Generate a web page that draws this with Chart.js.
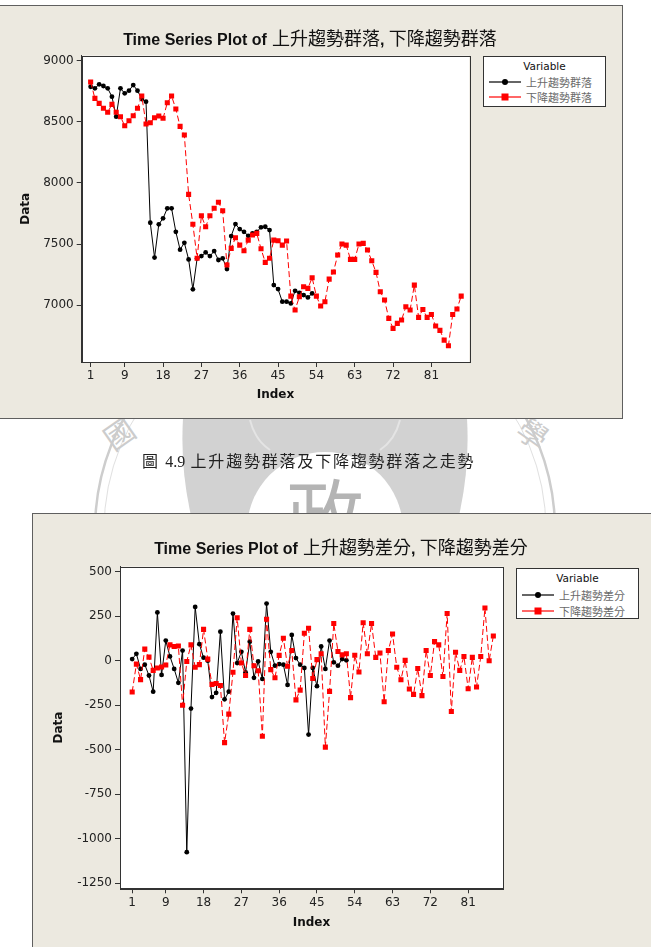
<!DOCTYPE html>
<html>
<head>
<meta charset="utf-8">
<script src="https://cdn.jsdelivr.net/npm/chart.js@4.4.0/dist/chart.umd.min.js"></script>
<style>
  html, body { margin: 0; padding: 0; background: #fff; }
  body { width: 651px; height: 947px; position: relative; overflow: hidden; font-family: "DejaVu Sans", sans-serif; }
  #mark { position: absolute; left: 0; top: 0; }
  .panel { position: absolute; background: #ece9e0; border: 1px solid #5f5f5f; box-sizing: border-box; }
  #panel1 { left: -2px; top: 5px; width: 625px; height: 414px; }
  #panel2 { left: 32px; top: 513px; width: 630px; height: 440px; }
  canvas { position: absolute; }
  #c1 { left: 0; top: 0; }
  #c2 { left: 0; top: 420px; }
  .title { position: absolute; white-space: nowrap; color: #111; transform: translate(-50%, -50%); }
  .title b { font-family: "Liberation Sans", sans-serif; font-size: 16px; }
  .title span { font-family: "Noto Sans CJK TC", sans-serif; font-size: 18px; }
  .legend { position: absolute; background: #fff; border: 1px solid #333; box-sizing: border-box; width: 123px; height: 51px; }
  .legend .head { position: absolute; left: 0; width: 100%; top: 3px; text-align: center; font-size: 10.5px; color: #111; font-family: "DejaVu Sans", sans-serif; }
  .legend .row { position: absolute; left: 42px; font-size: 11px; color: #6a6a6a; font-family: "Noto Sans CJK TC", sans-serif; line-height: 14px; }
  .legend svg { position: absolute; left: 4px; }
  #caption { position: absolute; left: 142px; top: 448px; font-family: "Noto Sans CJK TC", serif; font-size: 16px; letter-spacing: 1.8px; color: #222; white-space: nowrap; }
  #caption i { font-style: normal; font-family: "Liberation Serif", serif; font-size: 16px; letter-spacing: 0; }
</style>
</head>
<body>

<svg id="mark" width="651" height="947">
  <circle cx="325" cy="530" r="230" fill="none" stroke="#cdcdcd" stroke-width="2.5"/>
  <circle cx="325" cy="530" r="221" fill="none" stroke="#e0e0e0" stroke-width="1"/>
  <path d="M183 418 L467 418 Q470 470 458 520 L192 520 Q180 470 183 418 Z" fill="#d2d2d2"/>
  <path d="M250 420 Q255 440 270 450" fill="none" stroke="#e4e4e4" stroke-width="2"/>
  <path d="M400 420 Q395 440 380 450" fill="none" stroke="#e4e4e4" stroke-width="2"/>
  <circle cx="325" cy="530" r="78" fill="#ffffff"/>
  <text x="325" y="545" font-size="78" text-anchor="middle" fill="#b4b4b4" font-family="Noto Sans CJK TC">政</text>
  <text x="120" y="445" font-size="30" text-anchor="middle" fill="#cccccc" font-family="Noto Sans CJK TC" transform="rotate(-35 120 435)">國</text>
  <text x="532" y="445" font-size="30" text-anchor="middle" fill="#cccccc" font-family="Noto Sans CJK TC" transform="rotate(35 532 435)">學</text>
</svg>

<div class="panel" id="panel1"></div>
<div class="panel" id="panel2"></div>

<canvas id="c1" width="651" height="420"></canvas>
<canvas id="c2" width="651" height="527"></canvas>

<div class="title" style="left:310px; top:37px;"><b>Time Series Plot of</b> <span>上升趨勢群落</span><b>, </b><span>下降趨勢群落</span></div>
<div class="title" style="left:341px; top:546px;"><b>Time Series Plot of</b> <span>上升趨勢差分</span><b>, </b><span>下降趨勢差分</span></div>

<div class="legend" style="left:483px; top:56px;">
  <div class="head">Variable</div>
  <svg width="36" height="50" style="top:0">
    <line x1="1" y1="25" x2="33" y2="25" stroke="#000" stroke-width="1.2"/>
    <circle cx="17" cy="25" r="3" fill="#000"/>
    <line x1="1" y1="40" x2="33" y2="40" stroke="#f00" stroke-width="1.2"/>
    <rect x="13.5" y="36.5" width="7" height="7" fill="#f00"/>
  </svg>
  <div class="row" style="top:18px;">上升趨勢群落</div>
  <div class="row" style="top:33px;">下降趨勢群落</div>
</div>

<div class="legend" style="left:516px; top:568px;">
  <div class="head">Variable</div>
  <svg width="36" height="50" style="top:0">
    <line x1="1" y1="26" x2="33" y2="26" stroke="#000" stroke-width="1.2"/>
    <circle cx="17" cy="26" r="3" fill="#000"/>
    <line x1="1" y1="42" x2="33" y2="42" stroke="#f00" stroke-width="1.2"/>
    <rect x="13.5" y="38.5" width="7" height="7" fill="#f00"/>
  </svg>
  <div class="row" style="top:19px;">上升趨勢差分</div>
  <div class="row" style="top:35px;">下降趨勢差分</div>
</div>

<div id="caption">圖 <i>4.9</i> 上升趨勢群落及下降趨勢群落之走勢</div>

<script>
// index ticks shared by both plots
const xTicks = [1, 9, 18, 27, 36, 45, 54, 63, 72, 81];

// top plot: 上升趨勢群落 / 下降趨勢群落
const upCluster = [8787, 8774, 8807, 8793, 8774, 8706, 8542, 8774, 8733, 8755,
  8801, 8755, 8687, 8665, 7675, 7390, 7662, 7711, 7793, 7793,
  7601, 7455, 7511, 7375, 7130, 7384, 7402, 7432, 7402, 7443,
  7370, 7384, 7296, 7566, 7664, 7623, 7601, 7568, 7588, 7601,
  7637, 7642, 7615, 7165, 7132, 7029, 7029, 7015, 7118, 7102,
  7083, 7064, 7097];
const downCluster = [8826, 8692, 8651, 8611, 8578, 8643, 8578, 8542, 8468, 8509,
  8550, 8611, 8711, 8482, 8493, 8534, 8548, 8529, 8656, 8711,
  8605, 8463, 8392, 7907, 7662, 7384, 7732, 7642, 7732, 7793,
  7842, 7773, 7329, 7465, 7552, 7492, 7446, 7533, 7574, 7588,
  7462, 7351, 7384, 7533, 7528, 7492, 7525, 7075, 6961, 7069,
  7151, 7138, 7225, 7075, 6994, 7029, 7214, 7272, 7411, 7501,
  7492, 7375, 7375, 7501, 7506, 7452, 7364, 7269, 7110, 7043,
  6893, 6811, 6852, 6879, 6988, 6961, 7165, 6901, 6966, 6901,
  6925, 6830, 6795, 6715, 6669, 6925, 6969, 7075];
const yTicksTop = [7000, 7500, 8000, 8500, 9000];

// bottom plot: 上升趨勢差分 / 下降趨勢差分
const upDiff = [9, 39, -46, -22, -83, -174, 271, -80, 113, 24,
  -46, -124, 57, -1075, -269, 302, 93, 17, 0, -204,
  -180, 163, -217, -174, 265, -13, 50, -65, 107, -96,
  -4, -102, 321, 50, -28, -19, -22, -136, 145, 15,
  -22, -41, -415, -41, -143, 80, -46, 113, -9, -28,
  9, 2];
const downDiff = [-176, -19, -106, 65, 20, -54, -41, -35, -24, 89,
  80, 83, -250, -4, 89, -37, -22, 176, 9, -133,
  -128, -139, -460, -300, -65, 241, -13, -83, 176, -28,
  -56, -424, 233, -50, -96, 30, 126, -31, 57, -220,
  -165, 154, 182, -100, 6, 39, -485, -172, 209, 52,
  33, 39, -207, 31, -63, 213, 39, 209, 19, 43,
  -230, 57, 150, -37, -107, 2, -159, -189, -44, -196,
  57, -83, 107, 89, -89, 265, -285, 48, -54, 24,
  -157, 19, -148, 24, 296, 0, 139];
const yTicksBottom = [-1250, -1000, -750, -500, -250, 0, 250, 500];

const toPoints = arr => arr.map((v, i) => ({ x: i + 1, y: v }));

// white plot area + box around it
const plotFrame = {
  id: 'plotFrame',
  beforeDraw(chart) {
    const { ctx, chartArea: a } = chart;
    ctx.save();
    ctx.fillStyle = '#fff';
    ctx.fillRect(a.left, a.top, a.width, a.height);
    ctx.restore();
  },
  afterDraw(chart) {
    const { ctx, chartArea: a } = chart;
    ctx.save();
    ctx.strokeStyle = '#333';
    ctx.lineWidth = 1;
    ctx.strokeRect(Math.round(a.left) + 0.5, Math.round(a.top) + 0.5, Math.round(a.width), Math.round(a.height));
    ctx.restore();
  }
};

const tickFont = { family: 'DejaVu Sans', size: 12 };
const titleFont = { family: 'DejaVu Sans', size: 12, weight: 'bold' };

function makeChart(id, up, down, o) {
  const ctx = document.getElementById(id).getContext('2d');
  return new Chart(ctx, {
    type: 'line',
    data: {
      datasets: [
        { label: 'up', data: toPoints(up), order: 1, borderColor: '#000', borderWidth: 1, tension: 0,
          pointStyle: 'circle', pointRadius: 2.4, pointBackgroundColor: '#000', pointBorderWidth: 0 },
        { label: 'down', data: toPoints(down), order: 0, borderColor: '#ff0000', borderWidth: 1, borderDash: [6, 3], tension: 0,
          pointStyle: 'rect', pointRadius: 3.6, pointBackgroundColor: '#ff0000', pointBorderWidth: 0 }
      ]
    },
    options: {
      responsive: false,
      animation: false,
      layout: { padding: o.padding },
      plugins: { legend: { display: false }, tooltip: { enabled: false } },
      scales: {
        x: {
          type: 'linear', min: o.xMin, max: o.xMax,
          afterBuildTicks: s => { s.ticks = xTicks.map(v => ({ value: v })); },
          afterFit: s => { s.height = 50; },
          ticks: { color: '#222', font: tickFont, padding: 2, autoSkip: false, maxRotation: 0, callback: v => v },
          grid: { display: true, drawOnChartArea: false, drawTicks: true, tickLength: 5, color: '#333' },
          border: { display: true, color: '#333' },
          title: { display: true, text: 'Index', color: '#111', font: titleFont, padding: { top: 0, bottom: o.xTitlePad } }
        },
        y: {
          min: o.yMin, max: o.yMax,
          afterBuildTicks: s => { s.ticks = o.yTicks.map(v => ({ value: v })); },
          afterFit: s => { s.width = o.yWidth; },
          ticks: { color: '#222', font: tickFont, padding: 3, callback: v => v },
          grid: { display: true, drawOnChartArea: false, drawTicks: true, tickLength: 5, color: '#333' },
          border: { display: true, color: '#333' },
          title: { display: true, text: 'Data', color: '#111', font: titleFont, padding: { top: o.yTitlePad, bottom: 0 } }
        }
      }
    },
    plugins: [plotFrame]
  });
}

makeChart('c1', upCluster, downCluster, {
  padding: { left: 0, top: 55.7, right: 181.7, bottom: 8 },
  xMin: -1.1, xMax: 89.9, yMin: 6536, yMax: 9041, yTicks: yTicksTop,
  yWidth: 81.7, yTitlePad: 19, xTitlePad: 10
});

makeChart('c2', upDiff, downDiff, {
  padding: { left: 0, top: 146.7, right: 148, bottom: 8.7 },
  xMin: -1.9, xMax: 89.3, yMin: -1278, yMax: 528, yTicks: yTicksBottom,
  yWidth: 120, yTitlePad: 51.5, xTitlePad: 8.5
});
</script>
</body>
</html>
